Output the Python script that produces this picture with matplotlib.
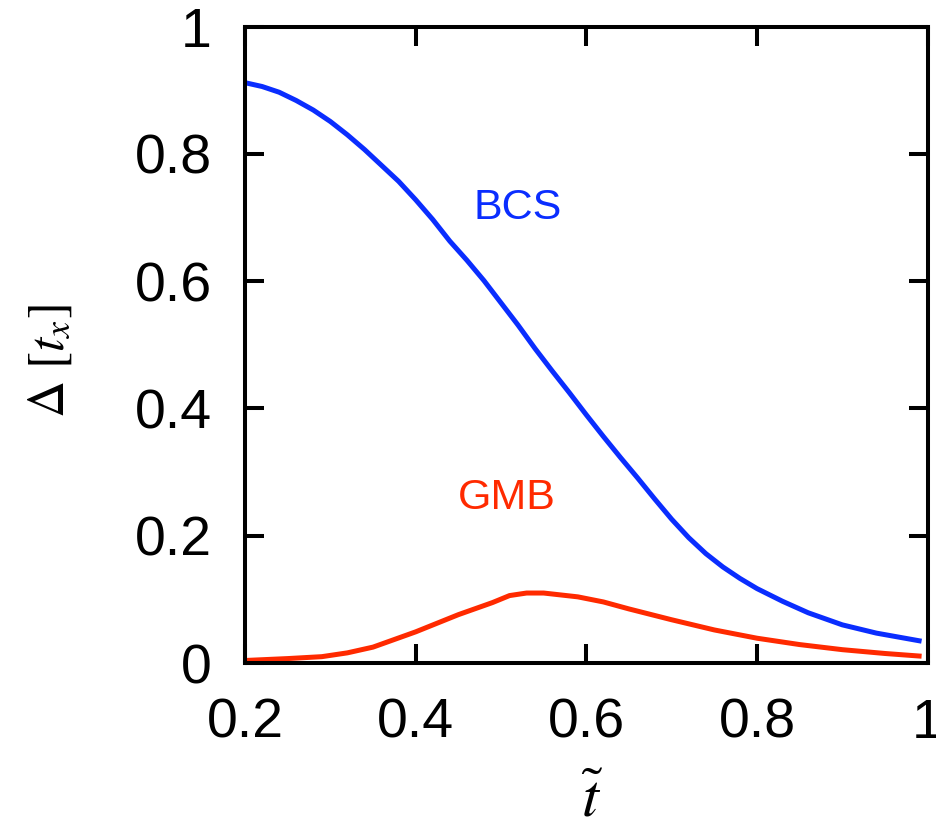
import matplotlib
matplotlib.use("Agg")
import matplotlib.pyplot as plt

# data
t_bcs = [0.20, 0.22, 0.24, 0.26, 0.28, 0.30, 0.32, 0.34, 0.36, 0.38, 0.40,
         0.42, 0.44, 0.46, 0.48, 0.50, 0.52, 0.54, 0.56, 0.58, 0.60,
         0.62, 0.64, 0.66, 0.68, 0.70, 0.72, 0.74, 0.76, 0.78, 0.80,
         0.83, 0.86, 0.90, 0.94, 0.99]
gap_bcs = [0.912, 0.906, 0.897, 0.884, 0.869, 0.851, 0.830, 0.807, 0.782, 0.757, 0.728,
           0.697, 0.663, 0.633, 0.601, 0.566, 0.531, 0.494, 0.459, 0.425, 0.390,
           0.356, 0.323, 0.291, 0.258, 0.226, 0.197, 0.172, 0.151, 0.133, 0.117,
           0.097, 0.079, 0.060, 0.047, 0.035]

t_gmb = [0.20, 0.25, 0.29, 0.32, 0.35, 0.40, 0.45, 0.49, 0.51, 0.53, 0.55,
         0.59, 0.62, 0.65, 0.70, 0.75, 0.80, 0.85, 0.90, 0.95, 0.99]
gap_gmb = [0.004, 0.007, 0.010, 0.016, 0.025, 0.049, 0.076, 0.095, 0.106, 0.110, 0.110,
           0.104, 0.096, 0.085, 0.068, 0.052, 0.039, 0.029, 0.021, 0.015, 0.011]

xticks = [0.2, 0.4, 0.6, 0.8, 1.0]
xtick_labels = ["0.2", "0.4", "0.6", "0.8", "1"]
yticks = [0, 0.2, 0.4, 0.6, 0.8, 1.0]
ytick_labels = ["0", "0.2", "0.4", "0.6", "0.8", "1"]

blue = "#0a2dff"
red = "#ff2a00"

plt.rcParams["font.family"] = ["Liberation Sans", "DejaVu Sans"]
plt.rcParams["mathtext.fontset"] = "stix"

fig = plt.figure(figsize=(9.37, 8.34), dpi=100)
ax = fig.add_axes([0.2615, 0.205, 0.7285, 0.763])

ax.plot(t_bcs, gap_bcs, color=blue, lw=3.6)
ax.plot(t_gmb, gap_gmb, color=red, lw=3.6)

ax.text(0.520, 0.715, "BCS", color=blue, fontsize=31, ha="center", va="center")
ax.text(0.507, 0.260, "GMB", color=red, fontsize=31, ha="center", va="center")

ax.set_xlim(0.2, 1.0)
ax.set_ylim(0, 1.0)
ax.set_xticks(xticks)
ax.set_xticklabels(xtick_labels)
ax.set_yticks(yticks)
ax.set_yticklabels(ytick_labels)

for s in ax.spines.values():
    s.set_linewidth(2.9)
ax.tick_params(direction="in", length=14, width=2.9, labelsize=40,
               top=True, right=True)
ax.tick_params(axis="x", pad=25)
ax.tick_params(axis="y", pad=24)

ax.set_xlabel(r"$\tilde{t}$", fontsize=44)
ax.xaxis.set_label_coords(0.508, -0.172)
ax.set_ylabel(r"$\Delta\ [t_x]$", fontsize=37)
ax.yaxis.set_label_coords(-0.25, 0.475)

fig.savefig("out.png", dpi=100)
